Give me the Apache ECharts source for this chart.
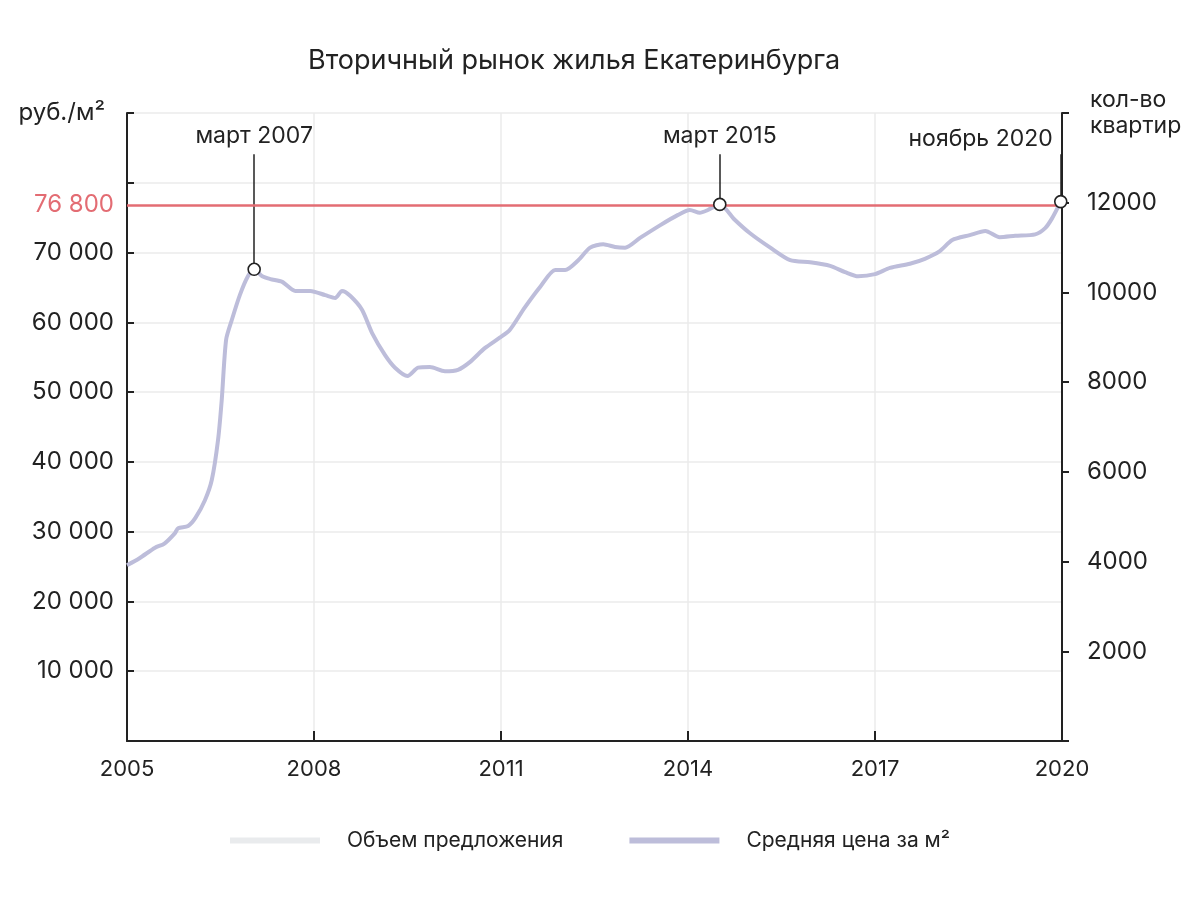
<!DOCTYPE html>
<html>
<head>
<meta charset="utf-8">
<script src="https://cdn.jsdelivr.net/npm/echarts@6/dist/echarts.min.js"></script>
<style>html,body{margin:0;padding:0;background:#fff}#c{width:1200px;height:900px}</style>
</head>
<body>
<div id="c"></div>
<script>
const years = [2005.0,2005.2,2005.45,2005.6,2005.77,2005.82,2005.98,2006.1,2006.25,2006.36,2006.46,2006.52,2006.59,2006.68,2006.81,2006.94,2007.04,2007.17,2007.3,2007.49,2007.7,2007.94,2008.18,2008.34,2008.45,2008.58,2008.77,2008.93,2009.14,2009.3,2009.5,2009.67,2009.86,2010.1,2010.31,2010.5,2010.74,2010.98,2011.14,2011.38,2011.63,2011.87,2012.03,2012.24,2012.43,2012.64,2012.83,2012.99,2013.23,2013.55,2013.84,2014.03,2014.19,2014.32,2014.51,2014.75,2014.99,2015.32,2015.64,2015.96,2016.28,2016.52,2016.73,2017.0,2017.24,2017.56,2017.8,2018.04,2018.24,2018.52,2018.77,2019.0,2019.25,2019.57,2019.73,2019.84,2019.98];
const prices = [25200,26200,27700,28300,29800,30500,30800,32000,34500,37400,43100,48900,57500,60300,63900,66600,67600,66600,66200,65800,64500,64500,63900,63500,64500,63800,61800,58500,55300,53500,52300,53500,53600,53000,53200,54300,56300,57800,58900,62100,65100,67500,67500,68900,70700,71200,70800,70700,72100,73900,75400,76100,75700,76100,76900,74700,72800,70700,68900,68600,68100,67200,66600,66900,67800,68400,69100,70200,71800,72500,73100,72200,72400,72600,73500,74900,77300];
const volumeValues = [];
const refPrice = 76800;
const refLabel = '76 800';
const annotDates = [2007.04, 2014.51, 2019.98];
const annotPrices = [67600, 76900, 77300];
const annotLabels = ['март 2007', 'март 2015', 'ноябрь 2020'];
const annotTop = 84100;
const xTicks = {min: 2005, max: 2020, interval: 3};
const leftTicks = {min: 0, max: 90000, interval: 10000};
const rightTicks = {min: 0, max: 14000, interval: 2000};

const FONT = 'Inter';
const TXT = '#222';
const fmtSpace = v => String(v).replace(/\B(?=(\d{3})+(?!\d))/g, ' ');

const chart = echarts.init(document.getElementById('c'), null, {renderer: 'canvas'});
const option = {
  backgroundColor: '#fff',
  animation: false,
  textStyle: {fontFamily: FONT, color: TXT},
  title: {
    text: 'Вторичный рынок жилья Екатеринбурга',
    left: 303, top: 42,
    textStyle: {fontFamily: FONT, fontSize: 27, fontWeight: 'normal', color: TXT}
  },
  legend: {
    left: 225, top: 825,
    itemWidth: 90, itemHeight: 6, itemGap: 66,
    icon: 'rect',
    data: ['Объем предложения', 'Средняя цена за м²'],
    textStyle: {fontFamily: FONT, fontSize: 21, color: TXT, padding: [0, 0, 0, 22]}
  },
  grid: {left: 127, right: 138, top: 113, bottom: 159, containLabel: false},
  xAxis: {
    type: 'value', min: xTicks.min, max: xTicks.max, interval: xTicks.interval,
    axisLine: {lineStyle: {color: TXT, width: 2}},
    axisTick: {inside: true, length: 10, lineStyle: {color: TXT, width: 2}},
    axisLabel: {formatter: v => String(v), fontFamily: FONT, fontSize: 22, color: TXT, margin: 17},
    splitLine: {show: true, lineStyle: {color: '#ebebeb', width: 1.5}}
  },
  yAxis: [{
    type: 'value', min: leftTicks.min, max: leftTicks.max, interval: leftTicks.interval,
    name: 'руб./м²', nameLocation: 'end', nameGap: 0,
    nameTextStyle: {fontFamily: FONT, fontSize: 24, color: TXT, align: 'right', verticalAlign: 'middle', padding: [0, 22, 0, 0]},
    axisLine: {show: true, lineStyle: {color: TXT, width: 2}},
    axisTick: {show: true, inside: true, length: 7, lineStyle: {color: TXT, width: 2}},
    axisLabel: {formatter: v => (v >= 10000 && v <= 70000) ? fmtSpace(v) : '', fontFamily: FONT, fontSize: 24, color: TXT, margin: 13},
    splitLine: {show: true, lineStyle: {color: '#ebebeb', width: 1.5}}
  }, {
    type: 'value', min: rightTicks.min, max: rightTicks.max, interval: rightTicks.interval,
    position: 'right',
    name: 'кол-во\nквартир', nameLocation: 'end', nameGap: 0,
    nameTextStyle: {fontFamily: FONT, fontSize: 23, color: TXT, align: 'left', verticalAlign: 'middle', lineHeight: 26, padding: [0, 0, 0, 28]},
    axisLine: {show: true, lineStyle: {color: TXT, width: 2}},
    axisTick: {show: true, inside: false, length: 7, lineStyle: {color: TXT, width: 2}},
    axisLabel: {formatter: v => (v >= 2000 && v <= 12000) ? String(v) : '', fontFamily: FONT, fontSize: 24, color: TXT, margin: 25},
    splitLine: {show: false}
  }],
  series: [{
    name: 'Объем предложения', type: 'line', yAxisIndex: 1,
    data: volumeValues,
    itemStyle: {color: '#e9ebed'}, lineStyle: {color: '#e9ebed', width: 6}, showSymbol: false
  }, {
    name: 'Средняя цена за м²', type: 'line', yAxisIndex: 0,
    data: years.map((y, i) => [y, prices[i]]),
    smooth: 0.25, showSymbol: false, symbol: 'none',
    itemStyle: {color: '#bdbdda'},
    lineStyle: {color: '#bdbdda', width: 4},
    z: 3,
    markLine: {
      silent: true, symbol: ['none', 'none'], animation: false,
      data: annotDates.map((d, i) => [
        {coord: [d, annotPrices[i]], lineStyle: {color: TXT, width: 1.5, type: 'solid'}, label: {show: false}},
        {coord: [d, annotTop]}
      ])
    }
  }, {
    name: 'ref', type: 'line', data: [], yAxisIndex: 0, z: 2,
    markLine: {
      silent: true, symbol: ['none', 'none'],
      data: [{yAxis: refPrice}],
      lineStyle: {color: '#e36c73', width: 2.5, type: 'solid'},
      label: {show: true, position: 'start', formatter: refLabel, color: '#e36c73', fontFamily: FONT, fontSize: 24, distance: 13}
    }
  }, {
    name: 'annotLabels', type: 'scatter', yAxisIndex: 0, symbolSize: 0, z: 5,
    itemStyle: {opacity: 1, color: TXT},
    data: annotDates.map((d, i) => {
      const item = {value: [d, annotTop], name: annotLabels[i]};
      if (i === 2) item.label = {position: 'left', distance: 8, offset: [0, -15]};
      return item;
    }),
    label: {show: true, position: 'top', distance: 7, formatter: p => p.name, fontFamily: FONT, fontSize: 23, color: TXT}
  }, {
    name: 'annotPoints', type: 'scatter', yAxisIndex: 0, symbol: 'circle', symbolSize: 12, z: 6,
    data: annotDates.map((d, i) => [d, annotPrices[i]]),
    itemStyle: {color: '#fff', borderColor: TXT, borderWidth: 1.6, opacity: 1}
  }]
};
chart.setOption(option);
</script>
</body>
</html>
